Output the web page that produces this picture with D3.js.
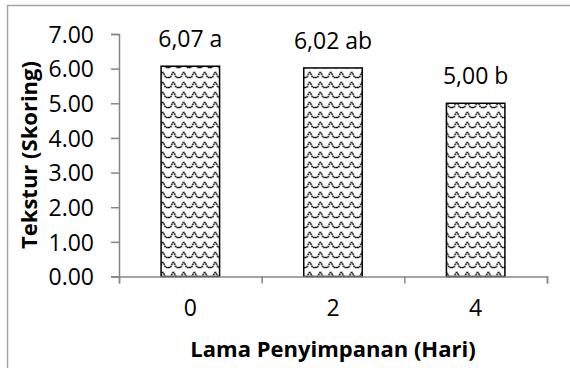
<!DOCTYPE html>
<html>
<head>
<meta charset="utf-8">
<script src="https://cdn.jsdelivr.net/npm/d3@7"></script>
<style>
  html, body { margin: 0; padding: 0; background: #fff; }
  .graph_area { width: 570px; height: 368px; }
  text { font-family: "Open Sans", sans-serif; fill: #000; }
</style>
</head>
<body>
<div class="graph_area"></div>
<script>
// chart data
const categories = ["0", "2", "4"]
const values = [6.07, 6.02, 5.00]
const barLabels = ["6,07 a", "6,02 ab", "5,00 b"]
const yTicks = [0, 1, 2, 3, 4, 5, 6, 7]
const xTitle = "Lama Penyimpanan (Hari)"
const yTitle = "Tekstur (Skoring)"

const width = 570, height = 368
const plot = { left: 119, right: 547, top: 34, bottom: 276.5 }
const fs = 23      // tick + value labels
const titleFs = 22 // axis titles

const svg = d3.select('.graph_area')
  .append('svg')
  .attr('width', width)
  .attr('height', height)

// wave fill like the excel pattern
const defs = svg.append('defs')
const pat = defs.append('pattern')
  .attr('id', 'wave')
  .attr('patternUnits', 'userSpaceOnUse')
  .attr('width', 10.5)
  .attr('height', 10)
pat.append('rect').attr('width', 10.5).attr('height', 10).attr('fill', '#fff')
pat.append('path')
  .attr('d', 'M0,7.5 L2.4,7.5 L4.6,2.5 L5.9,2.5 L8.1,7.5 L10.5,7.5')
  .attr('fill', 'none')
  .attr('stroke', '#000')
  .attr('stroke-width', 1.4)
  .attr('stroke-dasharray', '1.8,0.7')

// outer chart border (right / bottom edges fall outside the picture)
svg.append('rect')
  .attr('x', 7.5).attr('y', 5.5)
  .attr('width', 700).attr('height', 500)
  .attr('fill', 'none')
  .attr('stroke', '#a6a6a6')
  .attr('stroke-width', 1.5)

const yScale = d3.scaleLinear()
  .domain([0, 7])
  .range([plot.bottom, plot.top])

const xScale = d3.scaleBand()
  .domain(categories)
  .range([plot.left, plot.right])
  .paddingInner(0.59)
  .paddingOuter(0.295)

const xEdges = d3.scaleLinear()
  .domain([0, categories.length])
  .range([plot.left, plot.right])

// bars
svg.append('g')
  .selectAll('rect')
  .data(values)
  .join('rect')
  .attr('x', (d, i) => xScale(categories[i]))
  .attr('y', d => yScale(d))
  .attr('width', xScale.bandwidth())
  .attr('height', d => yScale(0) - yScale(d))
  .attr('fill', 'url(#wave)')
  .attr('stroke', '#000')
  .attr('stroke-width', 1.5)

// y axis
const yAxis = svg.append('g')
  .attr('transform', `translate(${plot.left},0)`)
  .call(d3.axisLeft(yScale)
    .tickValues(yTicks)
    .tickFormat(d3.format('.2f'))
    .tickSize(8)
    .tickPadding(17))
yAxis.selectAll('text').style('font-size', fs + 'px').attr('dy', '0.36em')

// x axis: boundary ticks
svg.append('g')
  .attr('transform', `translate(0,${plot.bottom})`)
  .call(d3.axisBottom(xEdges)
    .tickValues(d3.range(categories.length + 1))
    .tickFormat('')
    .tickSize(7))

// x axis: category labels
const xLab = svg.append('g')
  .attr('transform', `translate(0,${plot.bottom})`)
  .call(d3.axisBottom(xScale).tickSize(0).tickPadding(23))
xLab.select('.domain').remove()
xLab.selectAll('text').style('font-size', fs + 'px')

svg.selectAll('.domain, .tick line')
  .attr('stroke', '#868686')
  .attr('stroke-width', 1.5)
svg.selectAll('.tick text').attr('fill', '#000').attr('font-family', 'Open Sans, sans-serif')

// value labels
svg.append('g')
  .selectAll('text')
  .data(values)
  .join('text')
  .attr('x', (d, i) => xScale(categories[i]) + xScale.bandwidth() / 2)
  .attr('y', d => yScale(d) - 19)
  .attr('text-anchor', 'middle')
  .style('font-size', fs + 'px')
  .text((d, i) => barLabels[i])

// titles
svg.append('text')
  .attr('x', 333)
  .attr('y', 357)
  .attr('text-anchor', 'middle')
  .style('font-size', titleFs + 'px')
  .style('font-weight', 'bold')
  .text(xTitle)

svg.append('text')
  .attr('transform', 'translate(37,155) rotate(-90)')
  .attr('text-anchor', 'middle')
  .style('font-size', titleFs + 'px')
  .style('font-weight', 'bold')
  .text(yTitle)
</script>
</body>
</html>
